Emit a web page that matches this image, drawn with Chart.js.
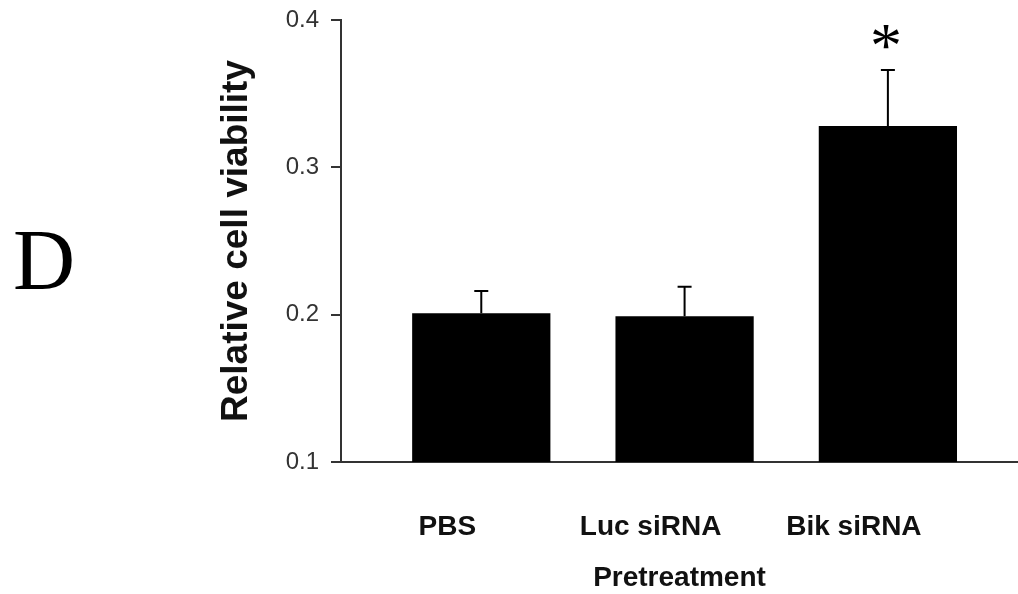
<!DOCTYPE html>
<html>
<head>
<meta charset="utf-8">
<script src="https://cdn.jsdelivr.net/npm/chart.js@4/dist/chart.umd.min.js"></script>
<style>
  html, body { margin: 0; padding: 0; background: #fff; }
  #wrap { width: 1018px; height: 594px; }
</style>
</head>
<body>
<div id="wrap"><canvas id="myChart" width="1018" height="594"></canvas></div>
<script>
// values
const categories = ["PBS", "Luc siRNA", "Bik siRNA"];
const viability = [0.201, 0.199, 0.328];
const errors = [0.015, 0.020, 0.038];
const significant = [false, false, true];
const yTicks = [0.1, 0.2, 0.3, 0.4];

// upper error bars + significance star
const errorBars = {
  id: "errorBars",
  afterDatasetsDraw(chart) {
    const ctx = chart.ctx;
    const meta = chart.getDatasetMeta(0);
    const y = chart.scales.y;
    ctx.save();
    ctx.strokeStyle = "#000";
    ctx.lineWidth = 2;
    meta.data.forEach((bar, i) => {
      const top = y.getPixelForValue(viability[i] + errors[i]);
      ctx.beginPath();
      ctx.moveTo(bar.x, bar.y);
      ctx.lineTo(bar.x, top);
      ctx.moveTo(bar.x - 7, top);
      ctx.lineTo(bar.x + 7, top);
      ctx.stroke();
      if (significant[i]) {
        ctx.fillStyle = "#000";
        ctx.font = "64px 'Liberation Serif'";
        ctx.textAlign = "center";
        ctx.textBaseline = "alphabetic";
        const m = ctx.measureText("*");
        const mid = (m.actualBoundingBoxAscent - m.actualBoundingBoxDescent) / 2;
        ctx.fillText("*", bar.x - 2, top - 33 + mid);
      }
    });
    ctx.restore();
  }
};

// panel letter
const panelLetter = {
  id: "panelLetter",
  afterDraw(chart) {
    const ctx = chart.ctx;
    ctx.save();
    ctx.fillStyle = "#000";
    ctx.font = "86px 'Liberation Serif'";
    ctx.textAlign = "left";
    ctx.textBaseline = "alphabetic";
    ctx.fillText("D", 13, 289);
    ctx.restore();
  }
};

new Chart("myChart", {
  type: "bar",
  data: {
    datasets: [{
      data: categories.map((c, i) => ({ x: i, y: viability[i] })),
      backgroundColor: "#000",
      borderWidth: 0,
      barPercentage: 0.68,
      categoryPercentage: 1
    }]
  },
  options: {
    responsive: false,
    animation: false,
    layout: { padding: { left: 211, top: 20, right: 0, bottom: 0 } },
    plugins: {
      legend: { display: false },
      tooltip: { enabled: false }
    },
    scales: {
      x: {
        type: "linear",
        offset: false,
        min: -0.69,
        max: 2.64,
        afterBuildTicks: (s) => { s.ticks = categories.map((c, i) => ({ value: i })); },
        afterFit: (s) => { s.height = 132; },
        grid: { display: false, offset: false },
        border: { display: true, color: "#333", width: 2 },
        ticks: {
          callback: (v) => categories[v],
          color: "#111",
          font: { family: "'Liberation Sans', Arial", size: 28, weight: "bold" },
          padding: 40,
          labelOffset: -34,
          maxRotation: 0,
          autoSkip: false
        },
        title: {
          display: true,
          text: "Pretreatment",
          color: "#111",
          font: { family: "'Liberation Sans', Arial", size: 28, weight: "bold", lineHeight: 1.1 },
          padding: { top: 0, bottom: 0 }
        }
      },
      y: {
        min: 0.1,
        max: 0.4,
        afterBuildTicks: (s) => { s.ticks = yTicks.map(v => ({ value: v })); },
        afterFit: (s) => { s.width = 130; s.paddingTop = 0; s.paddingBottom = 0; },
        grid: { drawOnChartArea: false, color: "#333", lineWidth: 2, tickLength: 10 },
        border: { display: true, color: "#333", width: 2 },
        ticks: {
          callback: (v) => v.toFixed(1),
          color: "#333",
          font: { family: "'Liberation Sans', Arial", size: 24 },
          padding: 12
        },
        title: {
          display: true,
          text: "Relative cell viability",
          color: "#111",
          font: { family: "'Liberation Sans', Arial", size: 37, weight: "bold", lineHeight: 1.2 },
          padding: { top: 4, bottom: 4 }
        }
      }
    }
  },
  plugins: [errorBars, panelLetter]
});
</script>
</body>
</html>
